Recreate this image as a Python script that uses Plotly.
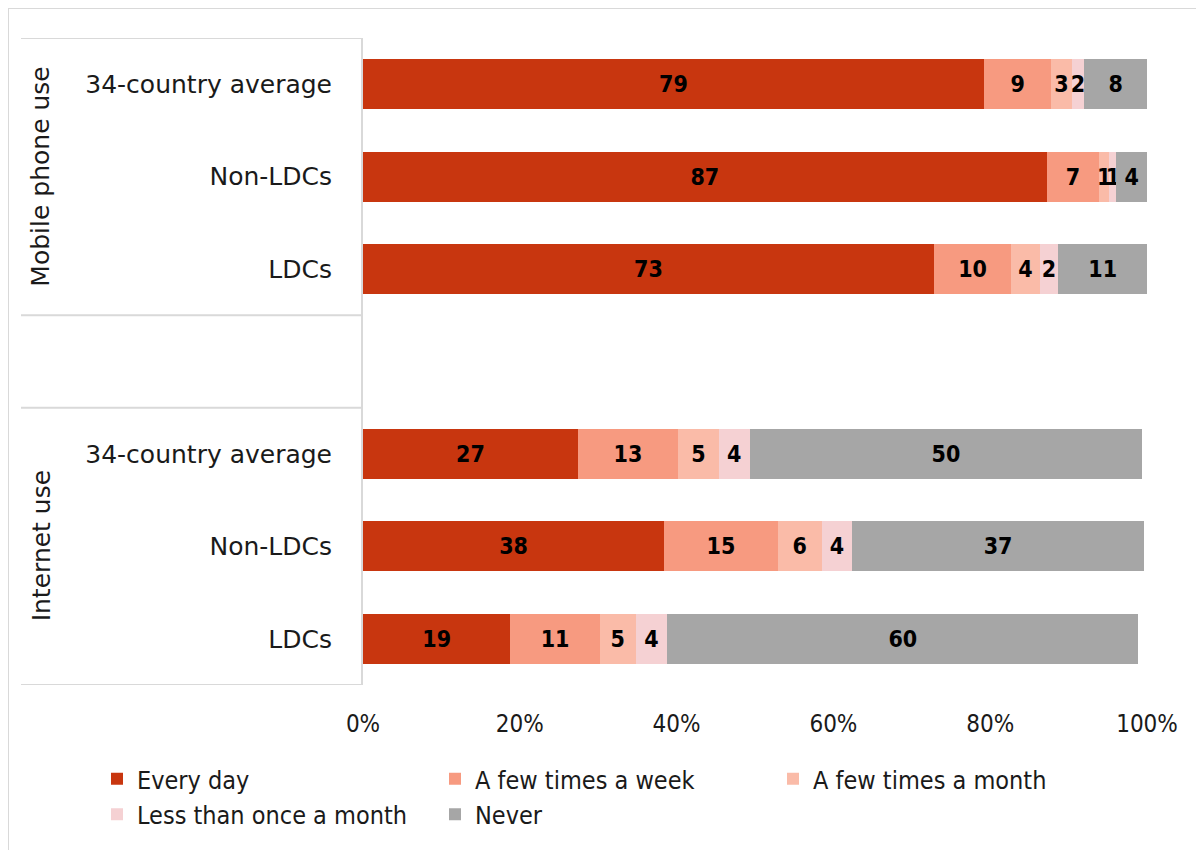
import plotly.graph_objects as go

groups = ["Mobile phone use", "Internet use"]
categories = ["34-country average", "Non-LDCs", "LDCs"]

series_names = ["Every day", "A few times a week", "A few times a month",
                "Less than once a month", "Never"]
# order: mobile (avg, non-LDCs, LDCs), internet (avg, non-LDCs, LDCs)
every_day = [79.2, 87.2, 72.8, 27.4, 38.4, 18.8]
few_week = [8.6, 6.7, 9.9, 12.8, 14.5, 11.4]
few_month = [2.6, 1.3, 3.6, 5.2, 5.6, 4.6]
less_month = [1.6, 0.9, 2.4, 3.9, 3.9, 4.0]
never = [8.0, 3.9, 11.3, 50.1, 37.2, 60.1]
colors = ["#C8360F", "#F79A80", "#FABBA8", "#F5D1D3", "#A6A6A6"]

x_ticks = [0, 20, 40, 60, 80, 100]

row_ids = [f"{g}|{c}" for g in groups for c in categories]
row_labels = [c for g in groups for c in categories]
gap_id = "gap"
cat_order = row_ids[:3] + [gap_id] + row_ids[3:]

# page offset (body margin) = 8px
OFF = 8
W, H = 1204 - OFF, 850 - OFF
# plot area in page pixels
PL, PR, PT, PB = 363, 1147, 38, 685
L, R, T, B = PL - OFF, PR - OFF, PT - OFF, PB - OFF

def px_x(px):
    return (px - PL) / (PR - PL)

def px_y(py):
    return (PB - py) / (PB - PT)

fig = go.Figure()
for name, vals, col in zip(series_names,
                           [every_day, few_week, few_month, less_month, never],
                           colors):
    fig.add_trace(go.Bar(
        name=name, y=row_ids, x=vals, orientation="h",
        marker=dict(color=col, line=dict(width=0)),
        text=vals, texttemplate="%{x:.0f}", textposition="inside",
        insidetextanchor="middle", textangle=0,
        textfont=dict(family="DejaVu Sans Condensed", size=23, color="black",
                      weight="bold"),
        hoverinfo="skip",
    ))

line_col = "#D9D9D9"
shapes = []
for yv in [-0.5, 2.5, 3.5, 6.5]:
    shapes.append(dict(type="line", xref="paper", yref="y",
                       x0=px_x(21), x1=0, y0=yv, y1=yv,
                       line=dict(color=line_col, width=2)))
shapes.append(dict(type="rect", xref="paper", yref="paper",
                   x0=px_x(8), x1=px_x(1240), y0=px_y(900), y1=px_y(8),
                   line=dict(color=line_col, width=2), fillcolor="rgba(0,0,0,0)"))

annotations = []
for g in groups:
    annotations.append(dict(
        text=g, xref="paper", yref="y", x=px_x(41), y=f"{g}|{categories[1]}",
        textangle=-90, showarrow=False, xanchor="center", yanchor="middle",
        font=dict(family="DejaVu Sans", size=25, color="#1a1a1a")))

fig.update_layout(
    width=W, height=H,
    margin=dict(l=L, r=W - R, t=T, b=H - B, autoexpand=False),
    barmode="stack", bargap=0.46,
    plot_bgcolor="white", paper_bgcolor="white",
    shapes=shapes, annotations=annotations,
    uniformtext=dict(minsize=23, mode="show"),
    legend=dict(orientation="h", traceorder="normal",
                xref="paper", yref="paper",
                x=px_x(97), y=px_y(756), xanchor="left", yanchor="top",
                entrywidth=293, entrywidthmode="pixels",
                font=dict(family="DejaVu Sans Condensed", size=25, color="#1a1a1a"),
                itemclick=False, itemdoubleclick=False),
    xaxis=dict(range=[0, 100], tickvals=x_ticks, ticktext=[f"{v}%" for v in x_ticks],
               showgrid=False, zeroline=False, showline=False, ticks="",
               ticklabelstandoff=22,
               tickfont=dict(family="DejaVu Sans Condensed", size=24, color="#1a1a1a")),
    yaxis=dict(type="category", categoryorder="array", categoryarray=cat_order,
               range=[6.5, -0.5], tickmode="array", tickvals=row_ids, ticktext=row_labels,
               showgrid=False, zeroline=False, showline=True, linecolor=line_col,
               linewidth=2, ticks="", ticklabelstandoff=24,
               tickfont=dict(family="DejaVu Sans", size=25, color="#1a1a1a")),
)

fig.write_html("out.html")
